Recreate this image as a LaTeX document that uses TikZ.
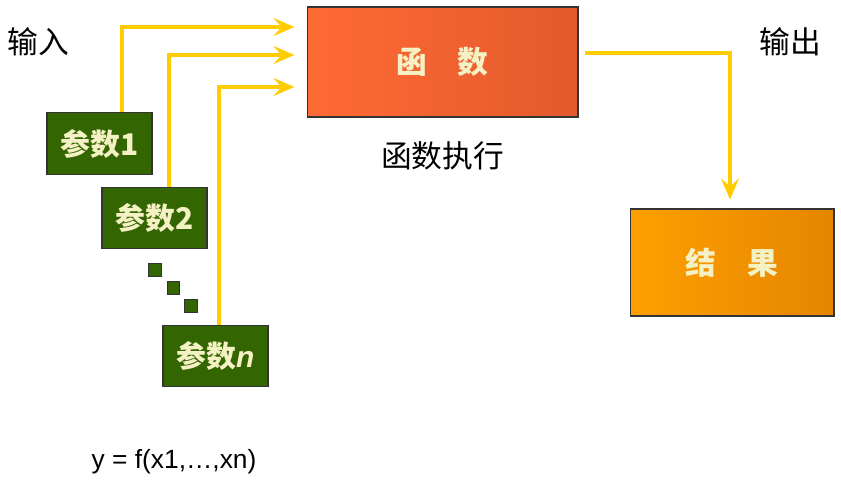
\documentclass[tikz,border=0pt]{standalone}
\usepackage{fontspec}
\setmainfont{Liberation Sans}
\newfontfamily\cjk{Noto Sans CJK SC}
\usepackage{tikz}
\usetikzlibrary{calc,arrows.meta,positioning}

\definecolor{flowyellow}{HTML}{FFCC00}
\definecolor{paramgreen}{HTML}{336600}
\definecolor{funcleft}{HTML}{FF6A35}
\definecolor{funcright}{HTML}{E35A2C}
\definecolor{resleft}{HTML}{FF9F00}
\definecolor{resright}{HTML}{E58600}
\definecolor{boxtext}{HTML}{F4F1C4}
\definecolor{edgegray}{HTML}{333333}

\begin{document}
\begin{tikzpicture}[x=0.02cm, y=-0.02cm,
    param/.style={draw=edgegray, line width=0.6pt, fill=paramgreen,
      minimum width=2.1cm, minimum height=1.23cm, inner sep=0pt,
      text=boxtext, font=\fontsize{17}{20}\selectfont\bfseries\cjk},
    bigbox/.style={draw=edgegray, line width=0.6pt, inner sep=0pt,
      text=boxtext, font=\fontsize{17.5}{20}\selectfont\bfseries\cjk},
    tinybox/.style={draw=edgegray, line width=0.6pt, fill=paramgreen,
      minimum size=0.25cm, inner sep=0pt},
    label/.style={font=\fontsize{17.5}{20}\selectfont\cjk},
    flow/.style={draw=flowyellow, line width=2.3pt,
      -{Stealth[length=0.42cm, width=0.36cm, inset=0.16cm]}}
  ]
  \useasboundingbox (0,0) rectangle (841,481);

  % --- Function and result ---
  \node[bigbox, minimum width=5.42cm, minimum height=2.2cm,
    left color=funcleft, right color=funcright] (func) at (442.5,62)
    {函\quad 数};
  \node[bigbox, minimum width=4.08cm, minimum height=2.14cm,
    left color=resleft, right color=resright] (res) at (732,262.5)
    {结\quad 果};

  % --- Parameters ---
  \node[param] (p1) at (99.5,143.5) {参数1};
  \node[param] (p2) at (154.5,218) {参数2};
  \node[param] (pn) at (215.5,356) {参数{\rmfamily\bfseries\itshape n}};
  \node[tinybox] (d1) at (155,270) {};
  \node[tinybox] (d2) at (173.5,288) {};
  \node[tinybox] (d3) at (191,306) {};

  % --- Labels ---
  \node[label] (in) at (38,42) {输入};
  \node[label] (out) at (790,42) {输出};
  \node[label, below=0.36cm of func] (exec) {函数执行};
  \node[font=\fontsize{15}{17}\selectfont] (eq) at (174,462)
    {y = f(x1,…,xn)};

  % --- Arrows ---
  \draw[flow, shorten >=0.24cm] ([xshift=0.45cm]p1.north)
    |- ([yshift=0.7cm]func.west);
  \draw[flow, shorten >=0.24cm] ([xshift=0.29cm]p2.north)
    |- ([yshift=0.14cm]func.west);
  \draw[flow, shorten >=0.24cm] ([xshift=0.07cm]pn.north)
    |- ([yshift=-0.5cm]func.west);
  \draw[flow, shorten <=0.12cm, shorten >=0.18cm] ([yshift=0.18cm]func.east)
    -| ([xshift=-0.04cm]res.north);
\end{tikzpicture}
\end{document}
